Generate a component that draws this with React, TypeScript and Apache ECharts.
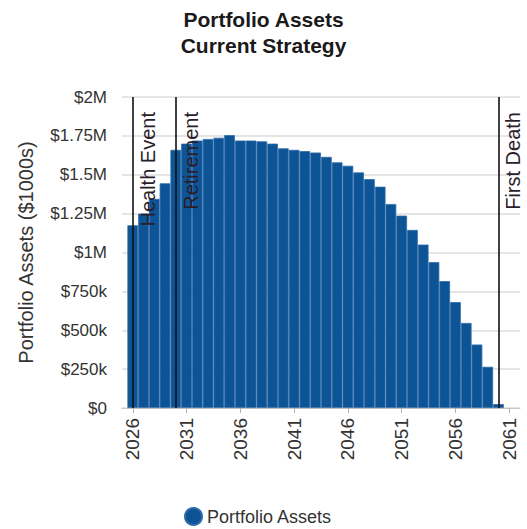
import React, { useEffect, useRef } from "react";
import * as echarts from "echarts";

const years: number[] = [
  2026, 2027, 2028, 2029, 2030, 2031, 2032, 2033, 2034, 2035,
  2036, 2037, 2038, 2039, 2040, 2041, 2042, 2043, 2044, 2045,
  2046, 2047, 2048, 2049, 2050, 2051, 2052, 2053, 2054, 2055,
  2056, 2057, 2058, 2059, 2060,
];
const assets: number[] = [
  1175000, 1250000, 1345000, 1445000, 1660000, 1700000, 1720000, 1730000, 1738000, 1755000,
  1720000, 1720000, 1715000, 1700000, 1670000, 1660000, 1652000, 1643000, 1615000, 1580000,
  1558000, 1515000, 1472000, 1423000, 1312000, 1237000, 1145000, 1051000, 938000, 816000,
  681000, 547000, 408000, 265000, 25000,
];
const tickYears: number[] = [2026, 2031, 2036, 2041, 2046, 2051, 2056, 2061];
const events: { name: string; year: number }[] = [
  { name: "Health Event", year: 2026 },
  { name: "Retirement", year: 2030 },
  { name: "First Death", year: 2060 },
];

const FONT = "'Liberation Sans', Arial, sans-serif";

function fmtMoney(v: number): string {
  if (v === 0) return "$0";
  if (v >= 1000000) return "$" + v / 1000000 + "M";
  return "$" + v / 1000 + "k";
}

export default function App() {
  const ref = useRef<HTMLDivElement>(null);
  useEffect(() => {
    if (!ref.current) return;
    const chart = echarts.init(ref.current, null, { renderer: "svg" });
    chart.setOption({
      animation: false,
      backgroundColor: "#ffffff",
      textStyle: { fontFamily: FONT },
      title: {
        text: "Portfolio Assets\nCurrent Strategy",
        left: "center",
        top: 6,
        padding: 0,
        textStyle: {
          fontFamily: FONT,
          fontSize: 21,
          fontWeight: "bold",
          color: "#1a1a1a",
          lineHeight: 26,
        },
      },
      legend: {
        data: ["Portfolio Assets"],
        left: 184,
        top: 507,
        padding: 0,
        icon: "circle",
        itemWidth: 17,
        itemHeight: 17,
        textStyle: { fontFamily: FONT, fontSize: 18, color: "#333" },
      },
      grid: { left: 122, right: 7, top: 97, bottom: 121, containLabel: false },
      xAxis: {
        type: "value",
        min: 2025,
        max: 2062,
        axisLine: { show: true, lineStyle: { color: "#c8c8c8", width: 1 } },
        axisTick: {
          show: true,
          length: 5,
          customValues: tickYears,
          lineStyle: { color: "#b0b0b0" },
        },
        axisLabel: {
          customValues: tickYears,
          rotate: 90,
          margin: 10,
          fontFamily: FONT,
          fontSize: 19,
          color: "#333",
          formatter: (v: number) => String(v),
        },
        splitLine: { show: false },
      },
      yAxis: {
        type: "value",
        min: 0,
        max: 2000000,
        interval: 250000,
        name: "Portfolio Assets ($1000s)",
        nameLocation: "middle",
        nameGap: 86,
        nameTextStyle: { fontFamily: FONT, fontSize: 20, color: "#333" },
        axisLine: { show: false },
        axisTick: { show: false },
        axisLabel: {
          margin: 15,
          fontFamily: FONT,
          fontSize: 17,
          color: "#333",
          formatter: fmtMoney,
        },
        splitLine: { show: true, lineStyle: { color: "#dcdcdc", width: 1.5 } },
      },
      series: [
        {
          name: "Portfolio Assets",
          type: "bar",
          barWidth: 10.7,
          data: years.map((y, i) => [y, assets[i]]),
          itemStyle: {
            color: "#0d5497",
            borderColor: "#2f6ba8",
            borderWidth: 0.8,
          },
          markLine: {
            silent: true,
            symbol: ["none", "none"],
            lineStyle: { color: "#111", width: 1.6, type: "solid" },
            label: {
              show: true,
              position: "insideEndBottom",
              formatter: "{b}",
              fontFamily: FONT,
              fontSize: 20,
              color: "#2a1e2a",
              distance: 5,
              padding: [0, 10, 0, 0],
            },
            data: events.map((e) => ({ name: e.name, xAxis: e.year })),
          },
        },
      ],
    });
    return () => chart.dispose();
  }, []);
  return (
    <div
      ref={ref}
      style={{ position: "fixed", left: 0, top: 0, width: 527, height: 529 }}
    />
  );
}
